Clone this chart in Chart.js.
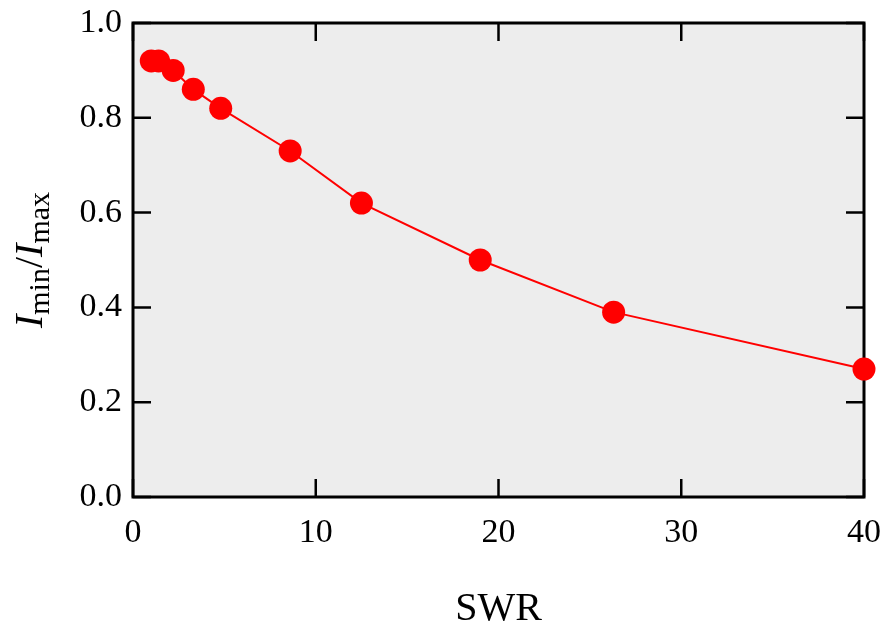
<!DOCTYPE html>
<html lang="en">
<head>
  <meta charset="UTF-8">
  <title>Imin/Imax vs SWR</title>
  <script src="https://cdn.jsdelivr.net/npm/chart.js"></script>
  <style>
    body { margin: 0; background: #ffffff; }
    .wrap { width: 885px; height: 628px; }
  </style>
</head>
<body>
  <div class="wrap"><canvas id="chart1" width="885" height="628"></canvas></div>

  <script>
    // data
    const swr = [1.0, 1.4, 2.2, 3.3, 4.8, 8.6, 12.5, 19.0, 26.3, 40.0];
    const ratio = [0.92, 0.92, 0.90, 0.86, 0.82, 0.73, 0.62, 0.50, 0.39, 0.27];
    const xTicks = [0, 10, 20, 30, 40];
    const yTicks = [0, 0.2, 0.4, 0.6, 0.8, 1.0];

    const points = swr.map(function (v, i) { return { x: v, y: ratio[i] }; });
    const serif = '"Liberation Serif", "DejaVu Serif", serif';

    // no extra room for overhanging tick labels, the plot box is fixed
    function noPad(s) {
      s.paddingTop = 0; s.paddingBottom = 0;
      s.paddingLeft = 0; s.paddingRight = 0;
    }

    // grey plot area, frame and inward ticks on all four sides
    const framePlugin = {
      id: 'frame',
      beforeDatasetsDraw: function (chart) {
        const ctx = chart.ctx;
        const a = chart.chartArea;
        const xs = chart.scales.x, ys = chart.scales.y;
        const tick = 18;
        ctx.save();
        ctx.fillStyle = '#ededed';
        ctx.fillRect(a.left, a.top, a.right - a.left, a.bottom - a.top);
        ctx.strokeStyle = '#000';
        ctx.lineWidth = 2.5;
        ctx.beginPath();
        xTicks.forEach(function (t) {
          const px = xs.getPixelForValue(t);
          ctx.moveTo(px, a.bottom); ctx.lineTo(px, a.bottom - tick);
          ctx.moveTo(px, a.top); ctx.lineTo(px, a.top + tick);
        });
        yTicks.forEach(function (t) {
          const py = ys.getPixelForValue(t);
          ctx.moveTo(a.left, py); ctx.lineTo(a.left + tick, py);
          ctx.moveTo(a.right, py); ctx.lineTo(a.right - tick, py);
        });
        ctx.stroke();
        ctx.lineWidth = 3;
        ctx.strokeRect(a.left, a.top, a.right - a.left, a.bottom - a.top);
        ctx.restore();
      },
      afterDraw: function (chart) {
        // y title with subscripts: I_min / I_max
        const ctx = chart.ctx;
        const a = chart.chartArea;
        const big = 'italic 40px ' + serif;
        const up = '40px ' + serif;
        const sub = '30px ' + serif;
        const parts = [
          { t: 'I', f: big, d: 0 },
          { t: 'min', f: sub, d: 7 },
          { t: '/', f: up, d: 0 },
          { t: 'I', f: big, d: 0 },
          { t: 'max', f: sub, d: 7 }
        ];
        ctx.save();
        let total = 0;
        parts.forEach(function (p) { ctx.font = p.f; p.w = ctx.measureText(p.t).width; total += p.w; });
        ctx.translate(42, (a.top + a.bottom) / 2);
        ctx.rotate(-Math.PI / 2);
        ctx.fillStyle = '#000';
        ctx.textBaseline = 'alphabetic';
        let x = -total / 2;
        parts.forEach(function (p) {
          ctx.font = p.f;
          ctx.fillText(p.t, x, p.d);
          x += p.w;
        });
        ctx.restore();
      }
    };

    const ctx = document.getElementById('chart1').getContext('2d');
    const chart = new Chart(ctx, {
      type: 'scatter',
      data: {
        datasets: [{
          label: 'Imin/Imax',
          data: points,
          showLine: true,
          borderColor: '#ff0000',
          borderWidth: 2,
          backgroundColor: '#ff0000',
          pointBackgroundColor: '#ff0000',
          pointBorderWidth: 0,
          pointRadius: 11.5,
          clip: false
        }]
      },
      options: {
        responsive: false,
        animation: false,
        events: [],
        layout: { padding: { top: 23, right: 21, left: 0, bottom: 0 } },
        plugins: {
          legend: { display: false },
          tooltip: { enabled: false }
        },
        scales: {
          x: {
            type: 'linear',
            min: 0, max: 40,
            afterFit: function (s) { s.height = 131; noPad(s); },
            afterBuildTicks: function (s) { s.ticks = xTicks.map(function (v) { return { value: v }; }); },
            grid: { display: false, drawTicks: false },
            border: { display: false },
            ticks: {
              padding: 16,
              maxRotation: 0,
              color: '#000',
              font: { family: serif, size: 34 },
              callback: function (v) { return String(v); }
            },
            title: {
              display: true,
              text: 'SWR',
              color: '#000',
              font: { family: serif, size: 40 },
              padding: { top: 0, bottom: -5 }
            }
          },
          y: {
            type: 'linear',
            min: 0, max: 1.0,
            afterFit: function (s) { s.width = 133; noPad(s); },
            afterBuildTicks: function (s) { s.ticks = yTicks.map(function (v) { return { value: v }; }); },
            grid: { display: false, drawTicks: false },
            border: { display: false },
            ticks: {
              padding: 11,
              color: '#000',
              font: { family: serif, size: 34 },
              callback: function (v) { return Number(v).toFixed(1); }
            }
          }
        }
      },
      plugins: [framePlugin]
    });
  </script>
</body>
</html>
